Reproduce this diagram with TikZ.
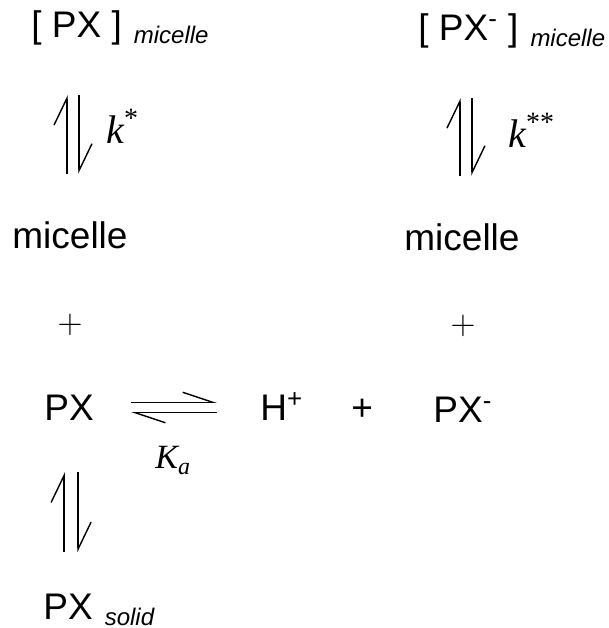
\documentclass[tikz,border=0pt]{standalone}
\usepackage{fontspec}
\setmainfont{Liberation Sans}
\newfontfamily\serif{Liberation Serif}
\usetikzlibrary{arrows.meta,calc}
\newcommand{\lowsub}[1]{\hspace{6pt}\raisebox{-3pt}{\fontsize{12}{14}\selectfont\itshape #1}}

\begin{document}
\begin{tikzpicture}[
x=0.5pt,y=-0.5pt,
species/.style={inner sep=0pt,anchor=base west,font=\fontsize{18.5}{20}\selectfont},
rate/.style={inner sep=0pt,anchor=base west,font=\fontsize{20}{22}\selectfont\serif\itshape},
thinplus/.style={inner sep=0pt,font=\fontsize{17}{18}\selectfont},
vharp/.style={line width=0.7pt,-{Straight Barb[left,length=13.5pt,width=13pt]}},
hharp/.style={line width=0.7pt,-{Straight Barb[left,length=15pt,width=10pt]}}
]
\useasboundingbox (0,0) rectangle (609,628);

\node[species] (pxmic) at (31,37) {[ PX ]\lowsub{micelle}};
\node[species] (pxmicm) at (418,40) {[ PX\textsuperscript{-} ]\lowsub{micelle}};
\node[species] (mic) at (12,248) {micelle};
\node[species] (micm) at (404,250) {micelle};
\node[thinplus] (plus) at (70,325) {$+$};
\node[thinplus] (plusm) at (463,326) {$+$};
\node[species] (px) at (44,420) {PX};
\node[species] (hplus) at (260,420) {H\textsuperscript{+}};
\node[species] (plush) at (351,420) {+};
\node[species] (pxm) at (433,422) {PX\textsuperscript{-}};
\node[species] (pxs) at (43,619) {PX\lowsub{solid}};

\node[rate] (kstar) at (106,143) {k\textsuperscript{\upshape *}};
\node[rate] (kstarm) at (508,147) {k\textsuperscript{\upshape **}};
\node[rate,font=\fontsize{17}{18}\selectfont\serif\itshape] (ka) at (155,468) {K\lower3pt\hbox{\fontsize{12}{13}\selectfont a}};

\draw[vharp,shorten <=23.5pt,shorten >=25pt] ([xshift=-1.5pt]mic.north) -- ([xshift=-1.5pt]mic.north |- pxmic.south);
\draw[vharp,shorten <=25pt,shorten >=23.5pt] ([xshift=4.5pt]mic.north |- pxmic.south) -- ([xshift=4.5pt]mic.north);

\draw[vharp,shorten <=23.5pt,shorten >=25pt] ([xshift=-1pt]micm.north) -- ([xshift=-1pt]micm.north |- pxmicm.south);
\draw[vharp,shorten <=25pt,shorten >=23.5pt] ([xshift=5pt]micm.north |- pxmicm.south) -- ([xshift=5pt]micm.north);

\draw[hharp,shorten <=18.5pt,shorten >=21.5pt] ([yshift=2.5pt]px.east) -- ([yshift=2.5pt]px.east -| hplus.west);
\draw[hharp,shorten <=21.5pt,shorten >=18.5pt] ([yshift=-2.75pt]px.east -| hplus.west) -- ([yshift=-2.75pt]px.east);

\draw[vharp,shorten <=20.5pt,shorten >=26pt] ([xshift=-2.5pt]px.south |- pxs.north) -- ([xshift=-2.5pt]px.south);
\draw[vharp,shorten <=26pt,shorten >=20.5pt] ([xshift=4.5pt]px.south) -- ([xshift=4.5pt]px.south |- pxs.north);
\end{tikzpicture}
\end{document}
